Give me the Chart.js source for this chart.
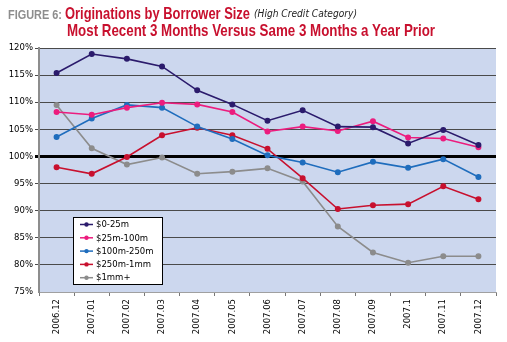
<!DOCTYPE html>
<html>
<head>
<meta charset="utf-8">
<script src="https://cdn.jsdelivr.net/npm/chart.js@4.4.0/dist/chart.umd.min.js"></script>
<style>
  html, body { margin: 0; padding: 0; background: #fff; }
  #wrap { position: relative; width: 507px; height: 342px; overflow: hidden; }
  .t { position: absolute; white-space: nowrap; line-height: 1; transform-origin: 0 0; font-family: "Liberation Sans", Arial, sans-serif; font-weight: bold; }
  .fig { color: #8d8d8d; font-size: 13px; }
  .red { color: #c8102e; font-size: 17px; }
  .sub { color: #222; font-size: 10px; font-style: italic; font-weight: normal; font-family: "DejaVu Sans", sans-serif; }
</style>
</head>
<body>
<div id="wrap">
  <canvas id="myChart" width="507" height="342"></canvas>
  <span class="t fig" data-w="54" style="left:8px; top:7.5px;">FIGURE 6:</span>
  <span class="t red" data-w="185" style="left:65px; top:5px;">Originations by Borrower Size</span>
  <span class="t sub" data-w="103" style="left:254px; top:9px;">(High Credit Category)</span>
  <span class="t red" data-w="368" style="left:67px; top:21.5px;">Most Recent 3 Months Versus Same 3 Months a Year Prior</span>
</div>
<script>
const labels = ['2006.12', '2007.01', '2007.02', '2007.03', '2007.04', '2007.05', '2007.06',
    '2007.07', '2007.08', '2007.09', '2007.1', '2007.11', '2007.12'];

const small = [115.4, 118.9, 118.0, 116.6, 112.2, 109.6, 106.6, 108.5, 105.5, 105.4, 102.4, 104.9, 102.1];
const midSmall = [108.2, 107.7, 109.0, 109.9, 109.6, 108.2, 104.6, 105.5, 104.7, 106.5, 103.5, 103.3, 101.7];
const midLarge = [103.6, 107.0, 109.5, 109.0, 105.5, 103.2, 100.2, 98.9, 97.1, 99.0, 97.9, 99.5, 96.2];
const large = [98.0, 96.8, 99.9, 103.9, 105.3, 103.9, 101.4, 96.0, 90.3, 91.0, 91.2, 94.5, 92.1];
const jumbo = [109.5, 101.5, 98.5, 99.8, 96.8, 97.2, 97.8, 95.4, 87.1, 82.3, 80.4, 81.6, 81.6];

const yTicks = [75, 80, 85, 90, 95, 100, 105, 110, 115, 120];

const COLORS = {
    navy: '#2b1b6c',
    pink: '#ec1c7e',
    blue: '#1f6dbd',
    red: '#c8102e',
    grey: '#8c8c8c'
};

const TICK_FONT = {family: 'DejaVu Sans', size: 8.5};

// squeeze the title pieces to the condensed widths of the original
document.querySelectorAll('.t').forEach(el => {
    const w = el.getBoundingClientRect().width;
    el.style.transform = 'scaleX(' + (el.dataset.w / w) + ')';
});

const plotBg = {
    id: 'plotBg',
    beforeDraw(chart) {
        const {ctx, chartArea: a} = chart;
        ctx.save();
        ctx.fillStyle = '#ccd7ee';
        ctx.fillRect(a.left, a.top, a.right - a.left, a.bottom - a.top);
        ctx.restore();
    }
};

// legend box sitting inside the plot, like the original
const boxLegend = {
    id: 'boxLegend',
    afterDraw(chart) {
        const {ctx, chartArea: a} = chart;
        const x = a.left + 34, y = a.top + 169, w = 89, h = 67;
        ctx.save();
        ctx.fillStyle = '#fff';
        ctx.fillRect(x, y, w, h);
        ctx.strokeStyle = '#000';
        ctx.lineWidth = 1;
        ctx.strokeRect(x + 0.5, y + 0.5, w, h);
        ctx.font = '8.5px "DejaVu Sans"';
        ctx.textBaseline = 'middle';
        chart.data.datasets.forEach((ds, i) => {
            const ry = y + 7.5 + i * 13.3;
            ctx.strokeStyle = ds.borderColor;
            ctx.lineWidth = 1.5;
            ctx.beginPath();
            ctx.moveTo(x + 7, ry);
            ctx.lineTo(x + 20, ry);
            ctx.stroke();
            ctx.fillStyle = ds.borderColor;
            ctx.beginPath();
            ctx.arc(x + 13.5, ry, 2.2, 0, Math.PI * 2);
            ctx.fill();
            ctx.fillStyle = '#000';
            ctx.fillText(ds.label, x + 23, ry + 0.5);
        });
        ctx.restore();
    }
};

function series(label, data, color) {
    return {
        label: label,
        data: data,
        borderColor: color,
        backgroundColor: color,
        borderWidth: 1.6,
        pointRadius: 2.2,
        pointHoverRadius: 2.2,
        tension: 0
    };
}

new Chart(document.getElementById('myChart'), {
    type: 'line',
    plugins: [plotBg, boxLegend],
    data: {
        labels: labels,
        datasets: [
            series('$0-25m', small, COLORS.navy),
            series('$25m-100m', midSmall, COLORS.pink),
            series('$100m-250m', midLarge, COLORS.blue),
            series('$250m-1mm', large, COLORS.red),
            series('$1mm+', jumbo, COLORS.grey)
        ]
    },
    options: {
        responsive: false,
        animation: false,
        layout: {padding: {top: 48, right: 11, left: 0, bottom: 0}},
        plugins: {
            legend: {display: false},
            tooltip: {enabled: false}
        },
        scales: {
            x: {
                offset: true,
                grid: {
                    offset: true,
                    drawOnChartArea: false,
                    drawTicks: true,
                    tickLength: 4,
                    color: '#777'
                },
                border: {color: '#a0a0a0', width: 1},
                ticks: {
                    color: '#000',
                    font: TICK_FONT,
                    minRotation: 90,
                    maxRotation: 90,
                    autoSkip: false,
                    padding: 3
                },
                afterFit: (s) => { s.height = 50; }
            },
            y: {
                min: 75,
                max: 120,
                afterBuildTicks: (s) => { s.ticks = yTicks.map(v => ({value: v})); },
                grid: {
                    color: (c) => c.tick && c.tick.value === 100 ? '#000' : (c.tick && c.tick.value === 75 ? 'rgba(0,0,0,0)' : '#4a4a4a'),
                    lineWidth: (c) => c.tick && c.tick.value === 100 ? 3 : 1,
                    tickLength: 4
                },
                border: {color: '#8d8d8d', width: 2},
                ticks: {
                    color: '#000',
                    font: TICK_FONT,
                    padding: 2,
                    callback: (v) => v + '%'
                },
                afterFit: (s) => { s.width = 39; }
            }
        }
    }
});
</script>
</body>
</html>
